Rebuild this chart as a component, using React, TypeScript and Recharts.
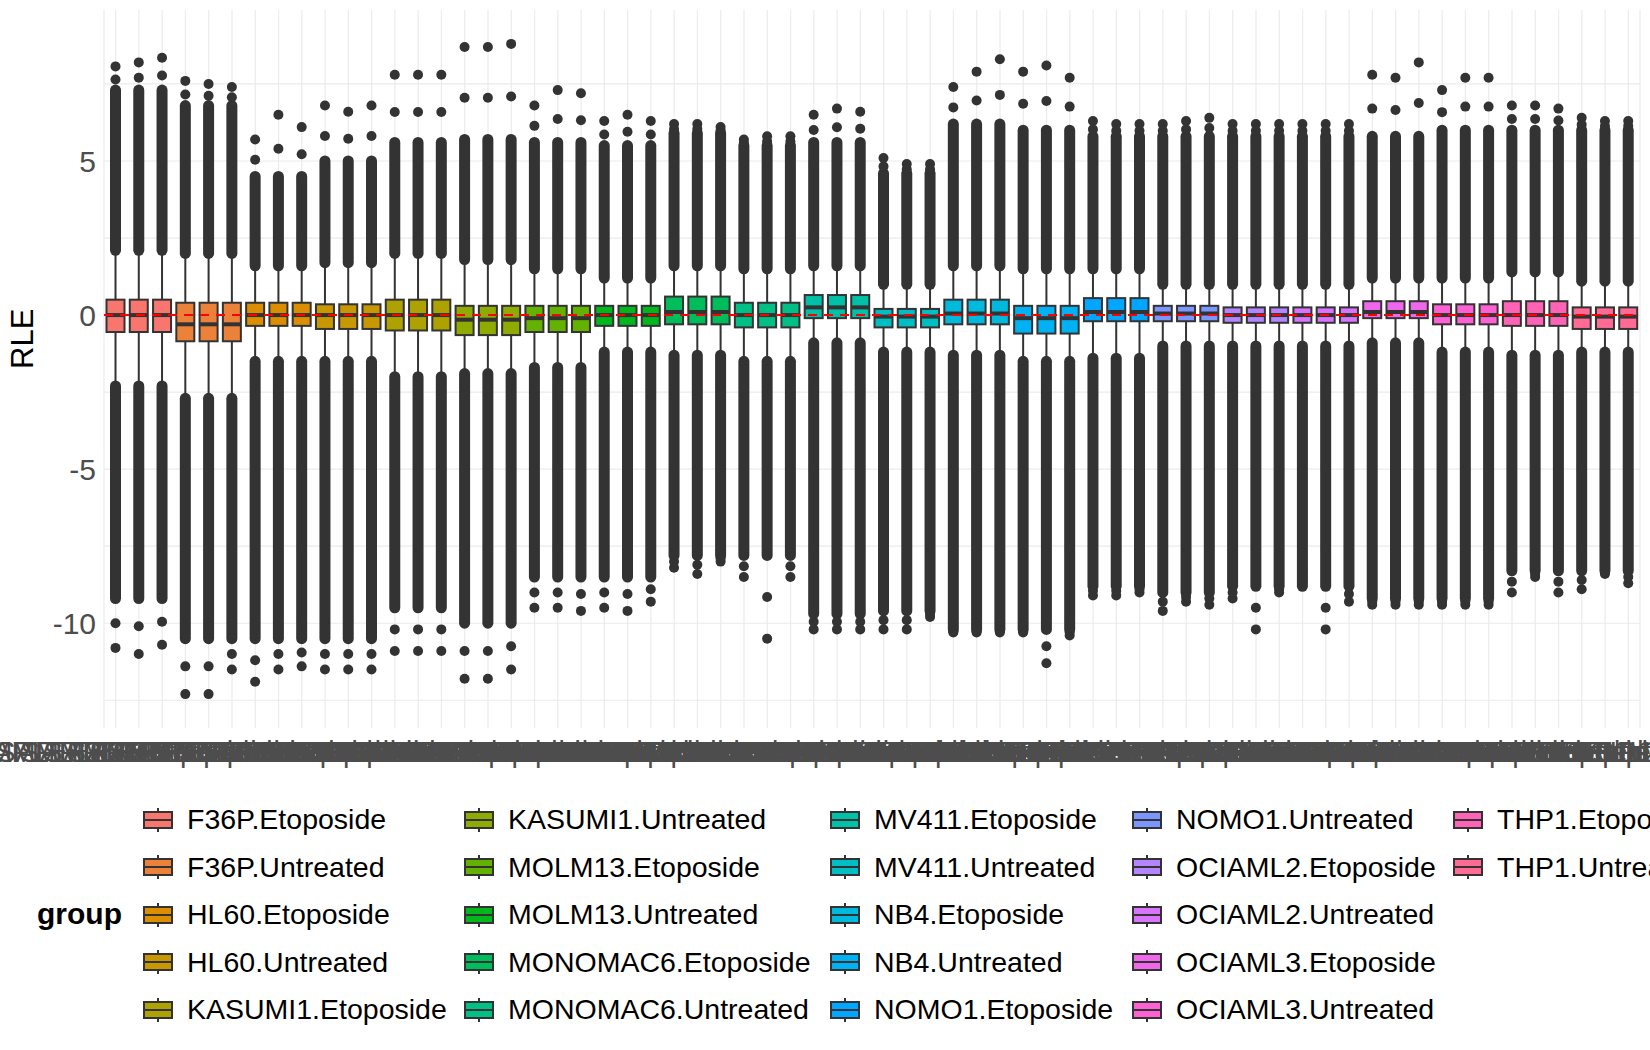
import React from 'react';
import { ComposedChart, Bar, XAxis, YAxis, CartesianGrid, ReferenceLine } from 'recharts';

const groups = [
  'F36P.Etoposide', 'F36P.Untreated', 'HL60.Etoposide', 'HL60.Untreated', 'KASUMI1.Etoposide',
  'KASUMI1.Untreated', 'MOLM13.Etoposide', 'MOLM13.Untreated', 'MONOMAC6.Etoposide', 'MONOMAC6.Untreated',
  'MV411.Etoposide', 'MV411.Untreated', 'NB4.Etoposide', 'NB4.Untreated', 'NOMO1.Etoposide',
  'NOMO1.Untreated', 'OCIAML2.Etoposide', 'OCIAML2.Untreated', 'OCIAML3.Etoposide', 'OCIAML3.Untreated',
  'THP1.Etoposide', 'THP1.Untreated',
];
const replicates = [1, 2, 3];

// per group box stats
const q1s = [-0.55, -0.85, -0.35, -0.45, -0.5, -0.65, -0.55, -0.35, -0.3, -0.4, -0.1, -0.4, -0.3, -0.6, -0.2, -0.2, -0.25, -0.25, -0.1, -0.3, -0.35, -0.45];
const q3s = [0.5, 0.4, 0.4, 0.35, 0.5, 0.3, 0.3, 0.3, 0.6, 0.4, 0.65, 0.2, 0.5, 0.3, 0.55, 0.3, 0.25, 0.25, 0.45, 0.35, 0.45, 0.25];
const medians = [0, -0.3, 0, 0, 0, -0.15, -0.1, 0, 0.1, 0, 0.25, -0.05, 0.05, -0.1, 0.1, 0.05, 0, 0, 0.1, 0, 0, -0.05];
const whiskerHi = [2.1, 2.0, 1.6, 1.7, 2.0, 1.8, 1.5, 1.2, 1.6, 1.5, 1.6, 1.0, 1.6, 1.5, 1.5, 1.0, 1.0, 1.0, 1.2, 1.2, 1.4, 1.1];
const whiskerLo = [-2.3, -2.7, -1.5, -1.5, -2.0, -1.9, -1.7, -1.2, -1.3, -1.5, -0.9, -1.2, -1.3, -1.5, -1.4, -1.0, -1.0, -1.0, -0.9, -1.2, -1.3, -1.2];
const denseHi = [7.3, 6.8, 4.5, 5.0, 5.6, 5.7, 5.6, 5.5, 5.9, 5.5, 5.6, 4.6, 6.2, 6.0, 5.8, 5.8, 5.8, 5.8, 5.8, 6.0, 6.0, 6.0];
const denseLo = [-9.2, -10.5, -10.5, -10.5, -9.5, -10, -8.5, -8.5, -7.8, -7.8, -9.7, -9.6, -10.2, -10.2, -8.8, -9.0, -8.8, -8.8, -9.2, -9.2, -8.3, -8.3];

// per sample extremes
const maxima = [
  8.07, 8.2, 8.35, 7.6, 7.5, 7.4, 5.7, 6.5, 6.1, 6.8, 6.6, 6.8, 7.8, 7.8, 7.8, 8.7, 8.7, 8.8,
  6.8, 7.3, 7.2, 6.3, 6.5, 6.3, 6.2, 6.2, 6.1, 5.7, 5.8, 5.8, 6.5, 6.7, 6.6, 5.1, 4.9, 4.9,
  7.4, 7.9, 8.3, 7.9, 8.1, 7.7, 6.3, 6.2, 6.2, 6.2, 6.3, 6.4, 6.2, 6.2, 6.2, 6.2, 6.2, 6.2,
  7.8, 7.7, 8.2, 7.3, 7.7, 7.7, 6.8, 6.8, 6.7, 6.4, 6.3, 6.3,
];
const minima = [
  -10.8, -11.0, -10.7, -12.3, -12.3, -11.5, -11.9, -11.5, -11.4, -11.5, -11.5, -11.5, -10.9, -10.9, -10.9, -11.8, -11.8, -11.5,
  -9.5, -9.5, -9.6, -9.5, -9.6, -9.3, -8.2, -8.4, -8.0, -8.5, -10.5, -8.5, -10.2, -10.2, -10.2, -10.2, -10.2, -9.8,
  -10.3, -10.3, -10.3, -10.3, -11.3, -10.4, -9.1, -9.1, -9.0, -9.6, -9.3, -9.4, -9.2, -10.2, -9.0, -8.3, -10.2, -9.3,
  -9.4, -9.4, -9.4, -9.4, -9.4, -9.4, -9.0, -8.5, -9.0, -8.9, -8.4, -8.7,
];

const yTicks = [-10, -5, 0, 5];
const gridValues = [-12.5, -10, -7.5, -5, -2.5, 0, 2.5, 5, 7.5];

// ggplot2 default hue palette
function hcl(h: number, c = 100, l = 65) {
  const Xn = 95.047, Yn = 100, Zn = 108.883;
  const un = (4 * Xn) / (Xn + 15 * Yn + 3 * Zn);
  const vn = (9 * Yn) / (Xn + 15 * Yn + 3 * Zn);
  const hr = (h * Math.PI) / 180;
  const u = c * Math.cos(hr), v = c * Math.sin(hr);
  const Y = Yn * Math.pow((l + 16) / 116, 3);
  const up = u / (13 * l) + un, vp = v / (13 * l) + vn;
  const X = (9 * Y * up) / (4 * vp);
  const Z = (Y * (12 - 3 * up - 20 * vp)) / (4 * vp);
  const x = X / 100, y = Y / 100, z = Z / 100;
  const lin = [
    3.2404542 * x - 1.5371385 * y - 0.4985314 * z,
    -0.969266 * x + 1.8760108 * y + 0.041556 * z,
    0.0556434 * x - 0.2040259 * y + 1.0572252 * z,
  ];
  return '#' + lin.map(ch => {
    const g = ch <= 0.0031308 ? 12.92 * ch : 1.055 * Math.pow(ch, 1 / 2.4) - 0.055;
    const n = Math.max(0, Math.min(255, Math.round(g * 255)));
    return n.toString(16).padStart(2, '0');
  }).join('');
}
const colors = groups.map((_, i) => hcl(15 + (360 / 22) * i));

const data = groups.flatMap((g, gi) =>
  replicates.map(r => {
    const i = gi * 3 + r - 1;
    return {
      sample: `SAMPLE${g.replace('.', '')}${r}`,
      gi,
      range: [minima[i], maxima[i]],
      lo: minima[i], hi: maxima[i],
    };
  })
);

const DARK = '#333333';
const font = '"Liberation Sans", Arial, sans-serif';

function BoxShape(props: any) {
  const { x, y, width, height, payload } = props;
  const { lo, hi, gi } = payload;
  const sy = (v: number) => y + ((hi - v) / (hi - lo)) * height;
  const cx = x + width / 2;
  const bw = 18;
  const dots = [hi, denseHi[gi] + (hi - denseHi[gi]) * 0.45, lo, denseLo[gi] + (lo - denseLo[gi]) * 0.5];
  return (
    <g>
      <line x1={cx} x2={cx} y1={sy(denseHi[gi])} y2={sy(whiskerHi[gi])} stroke={DARK} strokeWidth={11} strokeLinecap="round" />
      <line x1={cx} x2={cx} y1={sy(whiskerLo[gi])} y2={sy(denseLo[gi])} stroke={DARK} strokeWidth={11} strokeLinecap="round" />
      {dots.map((d, k) => <circle key={k} cx={cx} cy={sy(d)} r={5} fill={DARK} />)}
      <line x1={cx} x2={cx} y1={sy(whiskerHi[gi])} y2={sy(whiskerLo[gi])} stroke={DARK} strokeWidth={2} />
      <rect x={cx - bw / 2} y={sy(q3s[gi])} width={bw} height={sy(q1s[gi]) - sy(q3s[gi])} fill={colors[gi]} stroke={DARK} strokeWidth={2} />
      <line x1={cx - bw / 2} x2={cx + bw / 2} y1={sy(medians[gi])} y2={sy(medians[gi])} stroke={DARK} strokeWidth={4} />
    </g>
  );
}

function SampleTick(props: any) {
  const { x, y, payload } = props;
  return (
    <text x={x} y={y + 26} textAnchor="middle" fontSize={29} fill="#4d4d4d" fontFamily={font}>
      {payload.value}
    </text>
  );
}

function LegendKey({ color }: { color: string }) {
  return (
    <svg width={32} height={28} style={{ marginRight: 13 }}>
      <line x1={16} x2={16} y1={2} y2={26} stroke={DARK} strokeWidth={2} />
      <rect x={2} y={6} width={28} height={16} fill={color} stroke={DARK} strokeWidth={2} />
      <line x1={2} x2={30} y1={14} y2={14} stroke={DARK} strokeWidth={2} />
    </svg>
  );
}

export default function App() {
  const cols = [142, 463, 829, 1131, 1452];
  return (
    <div style={{ position: 'fixed', left: 0, top: 0, width: 1650, height: 1050, overflow: 'hidden', background: '#fff', fontFamily: font }}>
      <ComposedChart width={1650} height={790} data={data} margin={{ top: 10, right: 10, left: 0, bottom: 0 }} barCategoryGap={0}>
        <CartesianGrid stroke="#ebebeb" strokeWidth={1.2} horizontalValues={gridValues} />
        <XAxis dataKey="sample" interval={0} tickLine={false} axisLine={false} height={62} tick={<SampleTick />} />
        <YAxis domain={[-13.4, 9.9]} ticks={yTicks} width={104} tickLine={false} axisLine={false}
          tick={{ fontSize: 30, fill: '#4d4d4d', fontFamily: font }}
          label={{ value: 'RLE', angle: -90, position: 'insideLeft', offset: 22, style: { fontSize: 31, fill: '#000', fontFamily: font } }} />
        <Bar dataKey="range" shape={<BoxShape />} isAnimationActive={false} />
        <ReferenceLine y={0} stroke="#ff0000" strokeWidth={2} strokeDasharray="9 7" />
      </ComposedChart>
      <div style={{ position: 'absolute', left: 37, top: 897, fontSize: 30, fontWeight: 'bold' }}>group</div>
      {groups.map((g, i) => (
        <div key={g} style={{ position: 'absolute', left: cols[Math.floor(i / 5)], top: 803 + (i % 5) * 47.5, display: 'flex', alignItems: 'center', fontSize: 28.5, whiteSpace: 'nowrap' }}>
          <LegendKey color={colors[i]} />
          {g}
        </div>
      ))}
    </div>
  );
}
